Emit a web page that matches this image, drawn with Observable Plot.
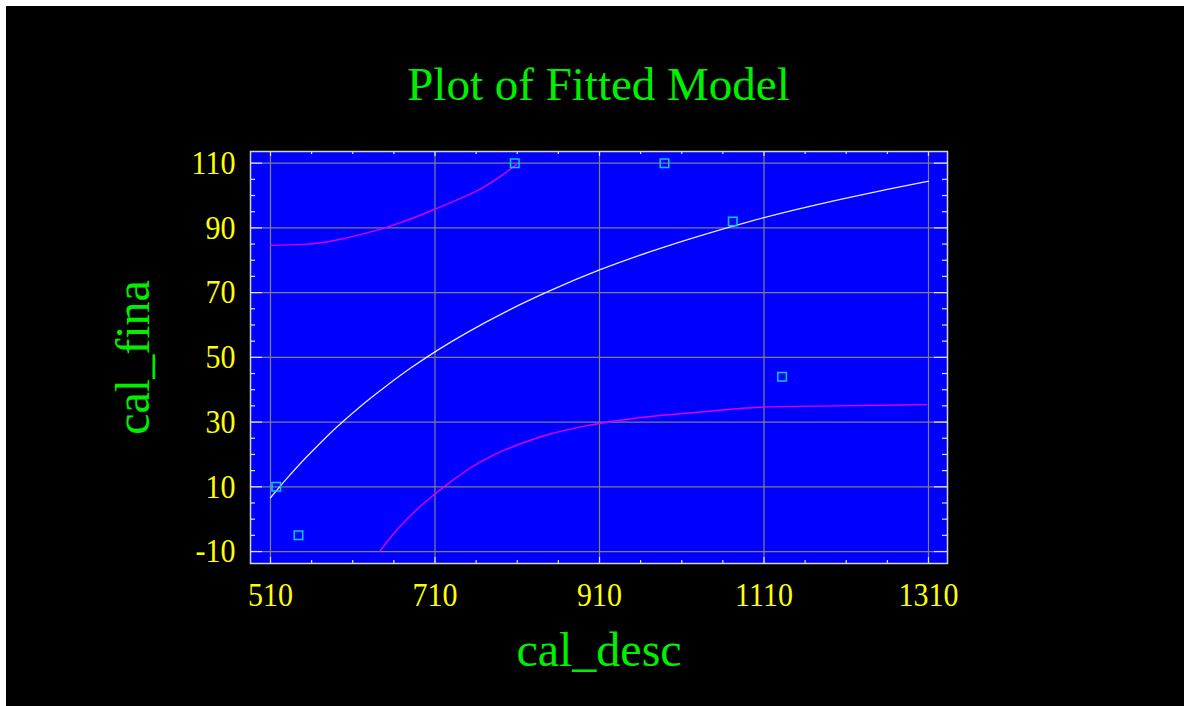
<!DOCTYPE html>
<html><head><meta charset="utf-8">
<script src="https://cdn.jsdelivr.net/npm/d3@7"></script>
<script src="https://cdn.jsdelivr.net/npm/@observablehq/plot@0.6"></script>
<style>
html,body{margin:0;padding:0;background:#fff;}
#wrap{position:absolute;left:6px;top:6px;width:1178px;height:700px;background:#000;overflow:hidden;}
#title{height:120px;box-sizing:border-box;padding-top:55px;width:1185px;text-align:center;font-family:"Liberation Serif",serif;font-size:47px;line-height:47px;color:#00f000;white-space:nowrap;}
#chart svg{display:block;}
</style></head><body>
<div id="wrap"><div id="title">Plot of Fitted Model</div><div id="chart"></div></div>
<script>
// Tick values
const xMajor = [510, 710, 910, 1110, 1310];
const xMinor = [560, 610, 660, 760, 810, 860, 960, 1010, 1060, 1160, 1210, 1260];
const yMajor = [-10, 10, 30, 50, 70, 90, 110];
const yMinor = [-5, 0, 5, 15, 20, 25, 35, 40, 45, 55, 60, 65, 75, 80, 85, 95, 100, 105];

// Observed points
const obsX = [517, 544, 807, 989, 1072, 1132];
const obsY = [10, -5, 110, 110, 92, 44];

// Fitted model line
const fitX = [510, 530, 550, 570, 590, 620, 650, 680, 710, 750, 800, 850, 910, 970, 1030, 1090, 1150, 1210, 1260, 1310];
const fitY = [6.6, 12.6, 18.2, 23.4, 28.3, 35.0, 41.0, 46.6, 51.7, 57.8, 64.6, 70.6, 77.0, 82.5, 87.4, 91.8, 95.7, 99.2, 101.9, 104.4];

// Upper limit
const upX = [510, 550, 571, 595, 619, 644, 668, 692, 710, 741, 765, 790, 810];
const upY = [84.6, 84.9, 85.4, 86.5, 87.9, 89.6, 91.6, 93.9, 95.8, 99.1, 102.0, 106.0, 109.8];

// Lower limit
const loX = [643, 656, 672, 692, 711, 733, 753, 778, 814, 850, 887, 915, 951, 1033, 1106, 1194, 1308];
const loY = [-9.9, -5.6, -1.0, 3.9, 8.0, 12.3, 15.8, 19.4, 23.3, 26.3, 28.5, 29.8, 31.1, 33.1, 34.6, 35.0, 35.4];

const zip = (xs, ys) => xs.map((x, i) => ({x, y: ys[i]}));
const obs = zip(obsX, obsY), fit = zip(fitX, fitY), up = zip(upX, upY), lo = zip(loX, loY);

const W = 697, H = 412;
const tickColor = "#e4e4f4", gridColor = "#808080";
const yellow = "#ffff00", green = "#00f000";

const chart = Plot.plot({
  width: 1178, height: 580,
  marginTop: 25, marginBottom: 143, marginLeft: 244, marginRight: 237,
  style: {background: "#000", fontFamily: "Liberation Serif, serif", overflow: "visible"},
  x: {domain: [485.7, 1333.1]},
  y: {domain: [-13.7, 113.6]},
  marks: [
    Plot.frame({fill: "#0000ff"}),
    Plot.ruleX(xMajor, {x: d => d, stroke: gridColor, strokeWidth: 1.2}),
    Plot.ruleY(yMajor, {y: d => d, stroke: gridColor, strokeWidth: 1.2}),
    Plot.tickX(xMajor, {x: d => d, stroke: tickColor, strokeWidth: 1.2, insetTop: H - 6}),
    Plot.tickX(xMajor, {x: d => d, stroke: tickColor, strokeWidth: 1.2, insetBottom: H - 5}),
    Plot.tickX(xMinor, {x: d => d, stroke: tickColor, strokeWidth: 1.2, insetTop: H - 3}),
    Plot.tickX(xMinor, {x: d => d, stroke: tickColor, strokeWidth: 1.2, insetBottom: H - 3}),
    Plot.tickY(yMajor, {y: d => d, stroke: tickColor, strokeWidth: 1.2, insetRight: W - 12}),
    Plot.tickY(yMajor, {y: d => d, stroke: tickColor, strokeWidth: 1.2, insetLeft: W - 13}),
    Plot.tickY(yMinor, {y: d => d, stroke: tickColor, strokeWidth: 1.2, insetRight: W - 5}),
    Plot.tickY(yMinor, {y: d => d, stroke: tickColor, strokeWidth: 1.2, insetLeft: W - 5}),
    Plot.line(up, {x: "x", y: "y", stroke: "#dd00ee", strokeWidth: 1.4, curve: "monotone-x"}),
    Plot.line(lo, {x: "x", y: "y", stroke: "#dd00ee", strokeWidth: 1.4, curve: "monotone-x"}),
    Plot.line(fit, {x: "x", y: "y", stroke: "#e8e8ff", strokeWidth: 1.3, curve: "monotone-x"}),
    Plot.dot(obs, {x: "x", y: "y", symbol: "square", r: 4.8, stroke: "#00ccff", strokeWidth: 1.5, fill: "none"}),
    Plot.frame({stroke: "#d4d4d4", strokeWidth: 1.5}),
    Plot.axisX(xMajor, {tickSize: 0, tickPadding: 19, fontSize: 30, color: yellow, label: null, tickFormat: d => String(d)}),
    Plot.axisY(yMajor, {tickSize: 0, tickPadding: 15, fontSize: 30, color: yellow, label: null, tickFormat: d => String(d)}),
    Plot.text(["cal_desc"], {text: d => d, frameAnchor: "bottom", lineAnchor: "bottom", textAnchor: "middle", dy: 102, fontSize: 48, fill: green}),
    Plot.text(["cal_fina"], {text: d => d, frameAnchor: "left", lineAnchor: "bottom", textAnchor: "middle", rotate: -90, dx: -102, fontSize: 48, fill: green})
  ]
});
// Slight vertical stretch of tick labels, as in the reference's bitmap font
chart.querySelectorAll('g[aria-label="x-axis tick label"] text, g[aria-label="y-axis tick label"] text').forEach(t => {
  const tr = t.getAttribute("transform") || "";
  t.setAttribute("transform", tr + " scale(1,1.12)");
});
document.getElementById("chart").appendChild(chart);
</script>
</body></html>
